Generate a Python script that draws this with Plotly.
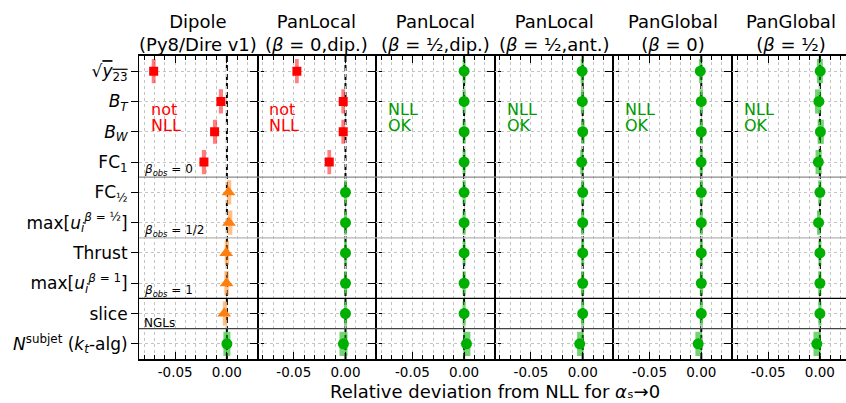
import plotly.graph_objects as go

# ---------------- data ----------------
obs_labels = [
    "√<span style='text-decoration:overline'><i>y</i><sub>23</sub></span>",
    "<i>B</i><sub><i>T</i></sub>",
    "<i>B</i><sub><i>W</i></sub>",
    "FC<sub>1</sub>",
    "FC<sub>½</sub>",
    "max[<i>u</i><sub><i>i</i></sub><sup><i>β</i> = ½</sup>]",
    "Thrust",
    "max[<i>u</i><sub><i>i</i></sub><sup><i>β</i> = 1</sup>]",
    "slice",
    "<i>N</i><sup>subjet</sup> (<i>k</i><sub><i>t</i></sub>-alg)",
]

shower_titles = [
    "Dipole<br>(Py8/Dire v1)",
    "PanLocal<br>(<i>β</i> = 0,dip.)",
    "PanLocal<br>(<i>β</i> = ½,dip.)",
    "PanLocal<br>(<i>β</i> = ½,ant.)",
    "PanGlobal<br>(<i>β</i> = 0)",
    "PanGlobal<br>(<i>β</i> = ½)",
]

verdict_line1 = ["not", "not", "NLL", "NLL", "NLL", "NLL"]
verdict_line2 = ["NLL", "NLL", "OK", "OK", "OK", "OK"]
verdict_kind = ["bad", "bad", "ok", "ok", "ok", "ok"]

# deviation (marker), band centre and band half-width, per shower
dev_dipole = [-0.0708, -0.0058, -0.0119, -0.0222, 0.0016, 0.0020, -0.0007, -0.0003, -0.0026, 0.0000]
mid_dipole = [-0.0708, -0.0058, -0.0115, -0.0222, 0.0021, 0.0030, 0.0000, -0.0003, -0.0019, 0.0000]
err_dipole = [0.0019, 0.0020, 0.0020, 0.0020, 0.0021, 0.0023, 0.0021, 0.0021, 0.0021, 0.0034]
cls_dipole = ["bad", "bad", "bad", "bad", "mid", "mid", "mid", "mid", "mid", "ok"]

dev_pl0 = [-0.0470, -0.0022, -0.0022, -0.0157, 0.0000, 0.0000, 0.0000, 0.0000, 0.0000, -0.0020]
mid_pl0 = [-0.0470, -0.0022, -0.0022, -0.0157, 0.0000, 0.0000, 0.0000, 0.0000, 0.0000, -0.0019]
err_pl0 = [0.0018, 0.0018, 0.0018, 0.0018, 0.0014, 0.0014, 0.0014, 0.0014, 0.0014, 0.0039]
cls_pl0 = ["bad", "bad", "bad", "bad", "ok", "ok", "ok", "ok", "ok", "ok"]

dev_plhd = [0.0000, 0.0000, 0.0000, 0.0000, 0.0000, 0.0000, 0.0000, 0.0000, 0.0000, 0.0023]
mid_plhd = [0.0000, 0.0000, 0.0000, 0.0000, 0.0000, 0.0000, 0.0000, 0.0000, 0.0000, 0.0026]
err_plhd = [0.0015, 0.0015, 0.0015, 0.0015, 0.0015, 0.0015, 0.0015, 0.0015, 0.0015, 0.0035]
cls_plhd = ["ok", "ok", "ok", "ok", "ok", "ok", "ok", "ok", "ok", "ok"]

dev_plha = [-0.0006, -0.0004, 0.0000, -0.0010, 0.0000, 0.0000, 0.0000, 0.0000, 0.0000, -0.0029]
mid_plha = [-0.0004, -0.0002, 0.0003, -0.0008, 0.0000, 0.0000, 0.0000, 0.0000, 0.0000, -0.0022]
err_plha = [0.0016, 0.0016, 0.0016, 0.0016, 0.0015, 0.0015, 0.0015, 0.0015, 0.0015, 0.0032]
cls_plha = ["ok", "ok", "ok", "ok", "ok", "ok", "ok", "ok", "ok", "ok"]

dev_pg0 = [-0.0010, 0.0000, 0.0000, -0.0002, 0.0000, 0.0000, 0.0000, 0.0000, 0.0000, -0.0030]
mid_pg0 = [-0.0006, 0.0000, 0.0000, 0.0000, 0.0000, 0.0000, 0.0000, 0.0000, 0.0000, -0.0026]
err_pg0 = [0.0016, 0.0016, 0.0016, 0.0016, 0.0015, 0.0015, 0.0015, 0.0015, 0.0015, 0.0031]
cls_pg0 = ["ok", "ok", "ok", "ok", "ok", "ok", "ok", "ok", "ok", "ok"]

dev_pgh = [0.0003, -0.0010, 0.0005, -0.0015, 0.0000, -0.0013, 0.0000, 0.0000, 0.0000, -0.0030]
mid_pgh = [0.0000, -0.0017, 0.0008, -0.0012, 0.0000, -0.0010, 0.0000, 0.0000, 0.0000, -0.0026]
err_pgh = [0.0029, 0.0030, 0.0030, 0.0030, 0.0015, 0.0018, 0.0015, 0.0015, 0.0015, 0.0036]
cls_pgh = ["ok", "ok", "ok", "ok", "ok", "ok", "ok", "ok", "ok", "ok"]

sep_positions = [3.5, 5.5, 7.5, 8.5]
sep_labels = ["<i>β</i><sub><i>obs</i></sub> = 0", "<i>β</i><sub><i>obs</i></sub> = 1/2",
              "<i>β</i><sub><i>obs</i></sub> = 1", "NGLs"]
sep_colors = ["#8a8a8a", "#b4b4b4", "#000000", "#444444"]

x_tickvals = [-0.05, 0.0]
x_ticktext = ["-0.05", "0.00"]
x_title = "Relative deviation from NLL for <i>α</i>ₛ→0"

panels = [
    (dev_dipole, mid_dipole, err_dipole, cls_dipole),
    (dev_pl0, mid_pl0, err_pl0, cls_pl0),
    (dev_plhd, mid_plhd, err_plhd, cls_plhd),
    (dev_plha, mid_plha, err_plha, cls_plha),
    (dev_pg0, mid_pg0, err_pg0, cls_pg0),
    (dev_pgh, mid_pgh, err_pgh, cls_pgh),
]

# ---------------- styling ----------------
FONT = "DejaVu Sans"
W, H = 846, 403
ML, MR, MT, MB = 139, 0, 56, 44
PW = 118.6
plot_w = W - ML - MR
plot_h = H - MT - MB
XMIN = -0.085
XSPAN = 0.1147

marker_style = {
    "bad": dict(symbol="square", size=9, color="#ff0000"),
    "mid": dict(symbol="triangle-up", size=12, color="#ff7f0e"),
    "ok": dict(symbol="circle", size=11, color="#00b000"),
}
band_color = {
    "bad": "rgba(255,0,0,0.5)",
    "mid": "rgba(255,127,14,0.5)",
    "ok": "rgba(0,176,0,0.55)",
}
text_color = {"bad": "#ff0000", "ok": "#009a00"}

fig = go.Figure()
layout_axes = {}

for i, (dev, mid, err, cls) in enumerate(panels):
    n = i + 1
    xa = "x" if n == 1 else f"x{n}"
    ya = "y" if n == 1 else f"y{n}"
    for kind in ["bad", "mid", "ok"]:
        idx = [k for k, c in enumerate(cls) if c == kind]
        if not idx:
            continue
        fig.add_trace(go.Bar(
            orientation="h",
            y=[obs_labels[k] for k in idx],
            x=[2 * err[k] for k in idx],
            base=[mid[k] - err[k] for k in idx],
            width=0.8,
            marker=dict(color=band_color[kind], line=dict(width=0)),
            xaxis=xa, yaxis=ya, showlegend=False, hoverinfo="skip",
        ))
        fig.add_trace(go.Scatter(
            y=[obs_labels[k] for k in idx],
            x=[dev[k] for k in idx],
            mode="markers",
            marker=dict(line=dict(width=0), **marker_style[kind]),
            xaxis=xa, yaxis=ya, showlegend=False,
        ))

    d0 = i * PW / plot_w
    d1 = (i + 1) * PW / plot_w if i < 5 else 1.0
    xmax = XMIN + XSPAN * (d1 - d0) * plot_w / PW
    layout_axes["xaxis" if n == 1 else f"xaxis{n}"] = dict(
        domain=[d0, d1], range=[XMIN, xmax], anchor=ya,
        tickmode="array", tickvals=x_tickvals, ticktext=x_ticktext,
        ticks="inside", ticklen=7, tickwidth=1.2, tickcolor="black",
        showline=True, linecolor="black", linewidth=1.5, mirror="ticks",
        showgrid=True, griddash="dot", gridcolor="#c4c4c4", gridwidth=1,
        zeroline=False,
        minor=dict(tickmode="linear", tick0=0, dtick=0.01, ticks="inside",
                   ticklen=4, tickwidth=1, tickcolor="black",
                   showgrid=True, griddash="dot", gridcolor="#c4c4c4", gridwidth=1),
        tickfont=dict(family=FONT, size=13.5, color="black"),
    )
    layout_axes["yaxis" if n == 1 else f"yaxis{n}"] = dict(
        anchor=xa, type="category", categoryorder="array", categoryarray=obs_labels,
        range=[len(obs_labels) - 0.5, -0.5],
        tickmode="array", tickvals=obs_labels, ticktext=obs_labels,
        showticklabels=(n == 1),
        ticks="outside", ticklen=7, tickwidth=1.2, tickcolor="black",
        showline=True, linecolor="black", linewidth=1,
        mirror=("ticks" if n < 6 else False),
        showgrid=True, griddash="dot", gridcolor="#c4c4c4", gridwidth=1,
        zeroline=False,
        tickfont=dict(family=FONT, size=17, color="black"),
    )

shapes = []
annotations = []
for i in range(6):
    n = i + 1
    xa = "x" if n == 1 else f"x{n}"
    shapes.append(dict(type="line", xref=xa, yref="paper", x0=0, x1=0, y0=0, y1=1,
                       line=dict(color="black", width=2, dash="6px,3px"), layer="between"))
    cx = (i * PW + PW / 2) / plot_w
    annotations.append(dict(text=shower_titles[i], xref="paper", yref="paper",
                            x=cx, y=1 - 1 / plot_h, xanchor="center", yanchor="bottom",
                            showarrow=False, font=dict(family=FONT, size=18, color="black")))
    annotations.append(dict(text=verdict_line1[i], xref=xa, yref="y",
                            x=-0.0755, y=1.27, xanchor="left", yanchor="middle",
                            showarrow=False,
                            font=dict(family=FONT, size=16, color=text_color[verdict_kind[i]])))
    annotations.append(dict(text=verdict_line2[i], xref=xa, yref="y",
                            x=-0.0755, y=1.81, xanchor="left", yanchor="middle",
                            showarrow=False,
                            font=dict(family=FONT, size=16, color=text_color[verdict_kind[i]])))

for pos, lab, col in zip(sep_positions, sep_labels, sep_colors):
    shapes.append(dict(type="line", xref="paper", yref="y", x0=0, x1=1, y0=pos, y1=pos,
                       line=dict(color=col, width=1.2)))
    annotations.append(dict(text=lab, xref="x", yref="y", x=-0.0825, y=pos,
                            xanchor="left", yanchor="bottom", yshift=-3, showarrow=False,
                            font=dict(family=FONT, size=12, color="black")))

annotations.append(dict(text=x_title,
                        xref="paper", yref="paper", x=(495 - ML) / plot_w,
                        y=-(391 - (H - MB)) / plot_h, xanchor="center", yanchor="middle",
                        showarrow=False, font=dict(family=FONT, size=18, color="black")))

fig.update_layout(
    width=W, height=H,
    margin=dict(l=ML, r=MR, t=MT, b=MB, pad=0),
    paper_bgcolor="white", plot_bgcolor="white",
    barmode="overlay", showlegend=False,
    font=dict(family=FONT, color="black"),
    shapes=shapes, annotations=annotations,
    **layout_axes,
)

fig.write_html("out.html", config={"displayModeBar": False},
               post_script="document.body.style.margin='0';")
